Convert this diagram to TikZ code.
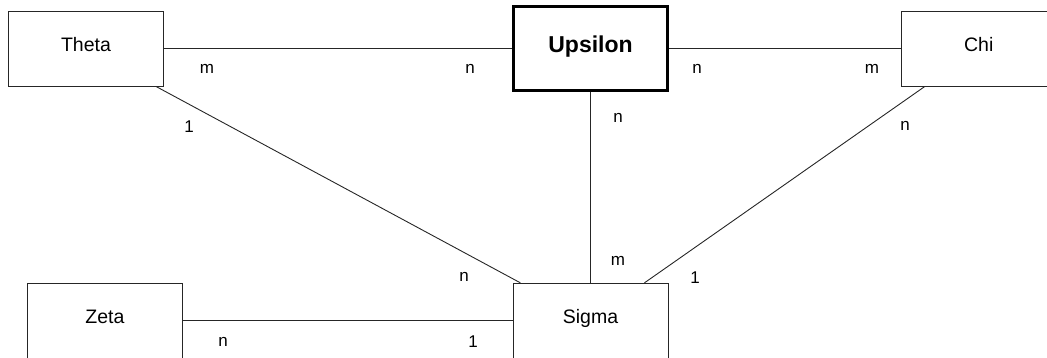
\documentclass[tikz,border=0pt]{standalone}
\usepackage{fontspec}
\setmainfont{Liberation Sans}
\begin{document}
\begin{tikzpicture}[x=1pt,y=-1pt,
  ent/.style={draw=black!85, line width=0.9pt, minimum width=155pt, minimum height=75pt, inner sep=0pt,
    font=\fontsize{19.5}{23}\selectfont, text height=14pt, text depth=8pt},
  mainent/.style={ent, draw=black, line width=3.3pt, minimum width=153.7pt, minimum height=83.7pt,
    font=\bfseries\fontsize{23}{27}\selectfont, text height=16.5pt, text depth=8.5pt},
  lbl/.style={font=\fontsize{17}{20}\selectfont, inner sep=0pt},
  conn/.style={draw=black!85, line width=0.9pt}]
\useasboundingbox (0,0) rectangle (1047,358);
\node[ent] (theta) at (86,48.6) {Theta};
\node[mainent] (upsilon) at (590.5,48.6) {Upsilon};
\node[ent] (chi) at (978.7,48.6) {Chi};
\node[ent] (zeta) at (105,320.8) {Zeta};
\node[ent] (sigma) at (590.5,320.8) {Sigma};

\draw[conn] (theta) -- (upsilon);
\draw[conn] (upsilon) -- (chi);
\draw[conn] (upsilon) -- (sigma);
\draw[conn] (theta) -- (sigma);
\draw[conn] (chi) -- (sigma);
\draw[conn] (zeta) -- (sigma);

\node[lbl] (l1) at (207,69) {m};
\node[lbl] (l2) at (470,69) {n};
\node[lbl] (l3) at (697,69) {n};
\node[lbl] (l4) at (872,69) {m};
\node[lbl] (l5) at (189,127) {1};
\node[lbl] (l6) at (618,118) {n};
\node[lbl] (l7) at (905,126) {n};
\node[lbl] (l8) at (464,277) {n};
\node[lbl] (l9) at (618,261) {m};
\node[lbl] (l10) at (695,278) {1};
\node[lbl] (l11) at (223,342) {n};
\node[lbl] (l12) at (473,342) {1};
\end{tikzpicture}
\end{document}
